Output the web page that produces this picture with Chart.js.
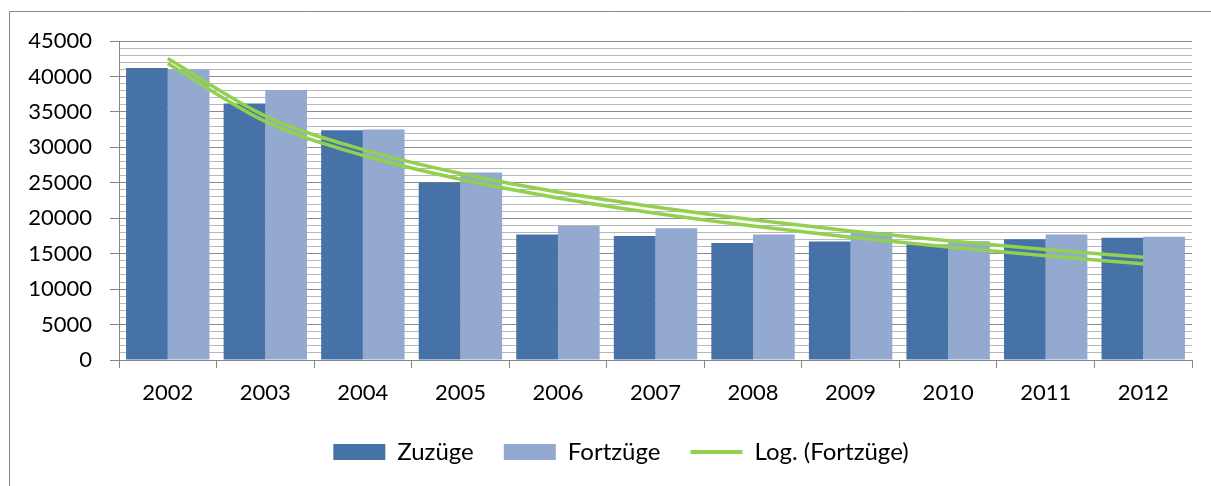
<!DOCTYPE html>
<html>
<head>
<meta charset="utf-8">
<script src="https://cdn.jsdelivr.net/npm/chart.js@4.4.1/dist/chart.umd.min.js"></script>
<style>
html,body{margin:0;padding:0;background:#fff;overflow:hidden}
#wrap{position:relative;width:1211px;height:486px}
</style>
</head>
<body>
<div id="wrap"><canvas id="c" width="1211" height="486"></canvas></div>
<script>
// ---- data ----
const years = ['2002','2003','2004','2005','2006','2007','2008','2009','2010','2011','2012'];
const zuzuege = [41200, 36200, 32400, 25050, 17700, 17500, 16500, 16700, 16300, 17050, 17250];
const fortzuege = [41000, 38100, 32500, 26450, 18900, 18600, 17700, 18050, 16750, 17700, 17400];
const yTickLabels = ['0','5000','10000','15000','20000','25000','30000','35000','40000','45000'];
const seriesNames = ['Zuzüge', 'Fortzüge', 'Log. (Zuzüge)', 'Log. (Fortzüge)'];

// logarithmic trendline (least squares y = a + b*ln(x)), as in the spreadsheet
function logTrend(vals) {
  const xs = vals.map((_, i) => Math.log(i + 1));
  const n = vals.length;
  const mx = xs.reduce((s, v) => s + v, 0) / n;
  const my = vals.reduce((s, v) => s + v, 0) / n;
  let sxy = 0, sxx = 0;
  for (let i = 0; i < n; i++) { sxy += (xs[i] - mx) * (vals[i] - my); sxx += (xs[i] - mx) ** 2; }
  const b = sxy / sxx, a = my - b * mx;
  return xs.map(l => a + b * l);
}

const DARK = '#4672A7', LIGHT = '#93A9CF', GREEN = '#92D050';
const AXIS = '#868686', MAJOR = '#8A8A8A', MINOR = '#B8B8B8';
const FONT = 'Lato, "Open Sans", sans-serif';

const LPAD = 20;
const LEGEND_SHIFT = 15;

const borderPlugin = {
  id: 'outerBorder',
  beforeDraw(chart) {
    const ctx = chart.ctx;
    ctx.save();
    ctx.fillStyle = '#fff';
    ctx.fillRect(0, 0, chart.width, chart.height);
    ctx.strokeStyle = AXIS;
    ctx.lineWidth = 1;
    ctx.beginPath();
    ctx.moveTo(9.5, chart.height);
    ctx.lineTo(9.5, 11.5);
    ctx.lineTo(chart.width, 11.5);
    ctx.stroke();
    ctx.restore();
  },
  afterLayout(chart) {
    if (chart.legend) { chart.legend.left += LEGEND_SHIFT; chart.legend.right += LEGEND_SHIFT; }
  }
};

new Chart(document.getElementById('c'), {
  data: {
    labels: years,
    datasets: [
      { type: 'bar', label: seriesNames[0], data: zuzuege, backgroundColor: DARK, borderWidth: 0,
        categoryPercentage: 0.855, barPercentage: 1.0, order: 1 },
      { type: 'bar', label: seriesNames[1], data: fortzuege, backgroundColor: LIGHT, borderWidth: 0,
        categoryPercentage: 0.855, barPercentage: 1.0, order: 1 },
      { type: 'line', label: seriesNames[2], data: logTrend(zuzuege), borderColor: GREEN, borderWidth: 3.5,
        pointRadius: 0, cubicInterpolationMode: 'monotone', fill: false, order: 0 },
      { type: 'line', label: seriesNames[3], data: logTrend(fortzuege), borderColor: GREEN, borderWidth: 3.5,
        pointRadius: 0, cubicInterpolationMode: 'monotone', fill: false, order: 0 }
    ]
  },
  options: {
    responsive: false,
    animation: false,
    devicePixelRatio: 1,
    layout: { padding: { left: LPAD, right: 19, top: 41, bottom: 12 } },
    scales: {
      x: {
        offset: true,
        grid: { offset: true, drawOnChartArea: false, drawTicks: true, tickLength: 8, tickColor: AXIS, color: AXIS },
        border: { display: true, color: AXIS, width: 1 },
        ticks: { color: '#000', font: { family: FONT, size: 22 }, padding: 12, maxRotation: 0, autoSkip: false },
        afterFit: s => { s.height = 50; }
      },
      y: {
        min: 0, max: 45000,
        grid: {
          color: c => (c.tick && c.tick.value % 5000 === 0) ? MAJOR : MINOR,
          tickColor: c => (c.tick && c.tick.value % 5000 === 0) ? AXIS : 'rgba(0,0,0,0)',
          tickLength: 9, lineWidth: 1
        },
        border: { display: true, color: AXIS, width: 1 },
        ticks: {
          stepSize: 1000, autoSkip: false, color: '#000',
          font: { family: FONT, size: 22 }, padding: 18,
          callback: v => (v % 5000 === 0) ? yTickLabels[v / 5000] : ''
        },
        afterFit: s => { s.width = 119 - LPAD; }
      }
    },
    plugins: {
      tooltip: { enabled: false },
      legend: {
        position: 'bottom',
        labels: {
          usePointStyle: true, pointStyleWidth: 52, boxHeight: 16, padding: 30,
          color: '#000', font: { family: FONT, size: 24 },
          generateLabels: chart => {
            const base = Chart.defaults.plugins.legend.labels.generateLabels(chart);
            return base.filter(i => i.datasetIndex !== 2)
              .sort((a, b) => a.datasetIndex - b.datasetIndex)
              .map(i => {
                if (i.datasetIndex < 2) {
                  i.pointStyle = 'rect'; i.lineWidth = 0; i.strokeStyle = 'rgba(0,0,0,0)';
                  i.fillStyle = i.datasetIndex === 0 ? DARK : LIGHT;
                } else {
                  i.pointStyle = 'line'; i.lineWidth = 4; i.strokeStyle = GREEN;
                }
                return i;
              });
          }
        }
      }
    }
  },
  plugins: [borderPlugin]
});
</script>
</body>
</html>
